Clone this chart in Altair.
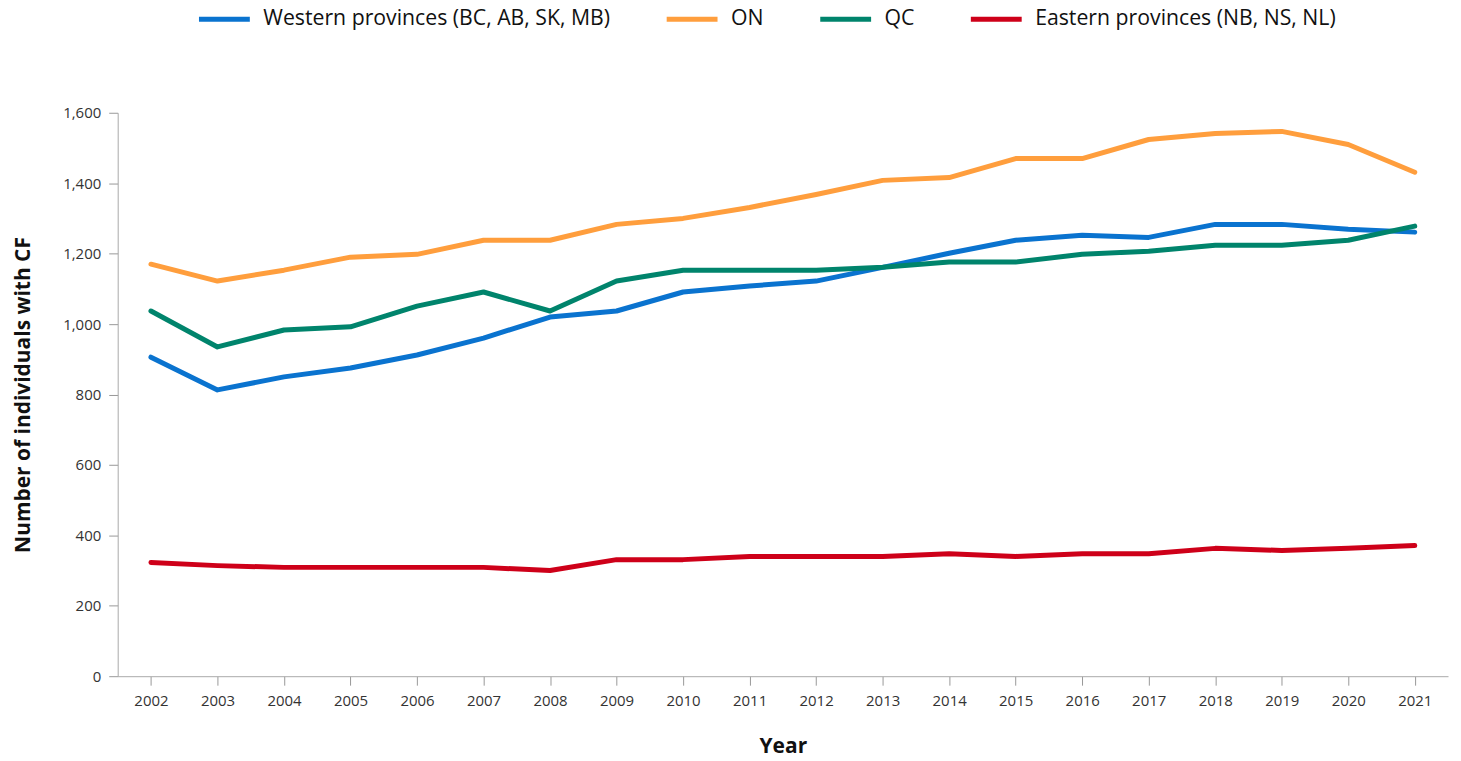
import altair as alt
import pandas as pd

years = list(range(2002, 2022))
western = [906, 813, 850, 875, 912, 960, 1020, 1037, 1091, 1108, 1122, 1161, 1201, 1238, 1252, 1246, 1283, 1283, 1269, 1261]
ontario = [1170, 1122, 1153, 1190, 1198, 1238, 1238, 1283, 1300, 1331, 1368, 1408, 1416, 1470, 1470, 1524, 1541, 1547, 1510, 1431]
quebec = [1037, 935, 983, 992, 1051, 1091, 1037, 1122, 1153, 1153, 1153, 1161, 1176, 1176, 1198, 1207, 1224, 1224, 1238, 1278]
eastern = [323, 314, 309, 309, 309, 309, 300, 331, 331, 340, 340, 340, 348, 340, 348, 348, 363, 357, 363, 371]

series_names = ["Western provinces (BC, AB, SK, MB)", "ON", "QC", "Eastern provinces (NB, NS, NL)"]
series_values = [western, ontario, quebec, eastern]
series_colors = ["#0A73CF", "#FF9E3D", "#00846C", "#CE0019"]

rows = []
for name, vals in zip(series_names, series_values):
    for y, v in zip(years, vals):
        rows.append({"Year": str(y), "Series": name, "Value": v})
df = pd.DataFrame(rows)

font = "Open Sans"

chart = alt.Chart(df).mark_line(strokeWidth=5, strokeCap="round", strokeJoin="round").encode(
    x=alt.X("Year:O", scale=alt.Scale(type="point", padding=0.5),
            axis=alt.Axis(title="Year", labelAngle=0, labelFontSize=15, labelColor="#333333",
                          labelFont=font, labelPadding=8, tickSize=9, tickColor="#999999",
                          domainColor="#aaaaaa", titleFontSize=21, titleFont=font,
                          titleFontWeight="bold", titleColor="#111111", titlePadding=28,
                          grid=False)),
    y=alt.Y("Value:Q", scale=alt.Scale(domain=[0, 1600], nice=False),
            axis=alt.Axis(title="Number of individuals with CF", values=[0, 200, 400, 600, 800, 1000, 1200, 1400, 1600],
                          format=",.0f", labelFontSize=15, labelColor="#333333", labelFont=font,
                          labelPadding=8, tickSize=9, tickColor="#999999", domainColor="#aaaaaa",
                          titleFontSize=21, titleFont=font, titleFontWeight="bold",
                          titleColor="#111111", titlePadding=29, grid=False)),
    color=alt.Color("Series:N", sort=series_names,
                    scale=alt.Scale(domain=series_names, range=series_colors),
                    legend=alt.Legend(title=None, orient="none", direction="horizontal",
                                      legendX=79, legendY=-122, symbolType="stroke",
                                      symbolSize=2600, symbolStrokeWidth=5,
                                      labelFontSize=21.3, labelFont=font, labelColor="#111111",
                                      labelOffset=11, columnPadding=46, labelLimit=500)),
).properties(
    width=1334, height=565,
    autosize=alt.AutoSizeParams(type="none"),
    padding={"left": 110, "top": 104, "right": 5, "bottom": 86}
).configure(font=font).configure_view(strokeWidth=0, stroke="transparent")

chart.save("out.html", embed_options={"renderer": "svg", "actions": False})
